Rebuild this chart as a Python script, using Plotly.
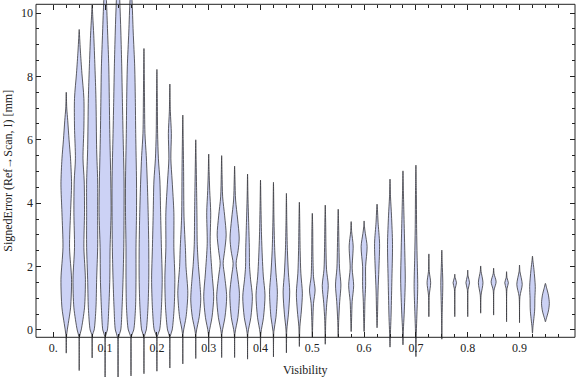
import plotly.graph_objects as go

# ---------------- data ----------------
VIS = [0.025, 0.05, 0.075, 0.1, 0.125, 0.15, 0.175, 0.2, 0.225, 0.25,
       0.275, 0.3, 0.325, 0.35, 0.375, 0.4, 0.425, 0.45, 0.475, 0.5,
       0.525, 0.55, 0.575, 0.6, 0.625, 0.65, 0.675, 0.7, 0.725, 0.75,
       0.775, 0.8, 0.825, 0.85, 0.875, 0.9, 0.925, 0.95]

VMIN = [-0.73, -1.28, -0.88, -1.55, -1.6, -1.45, -1.38, -1.3, -1.2, -1.07,
        -0.9, -0.68, -0.87, -0.87, -0.92, -0.67, -0.85, -0.72, -0.52, -0.23,
        -0.45, -0.22, -0.05, -0.05, 0.07, -0.54, -0.47, -0.84, 0.42, -0.29,
        0.42, 0.42, 0.53, 0.47, 0.26, 0.23, -0.1, 0.26]

VMAX = [7.5, 9.48, 10.25, 11.0, 11.5, 10.8, 8.88, 8.22, 7.76, 6.78,
        6.0, 5.55, 5.5, 5.17, 4.92, 4.73, 4.66, 4.31, 4.03, 3.68,
        3.94, 3.81, 3.42, 3.44, 3.97, 4.76, 5.02, 5.2, 2.4, 2.52,
        1.76, 1.89, 2.02, 1.95, 1.84, 2.05, 2.33, 1.47]

# density profiles: (error value, relative density width)
PROFILES = [
    [(-0.15, 0.4), (0.2, 2.0), (0.7, 4.3), (1.6, 5.3), (2.6, 3.3), (3.7, 4.3), (4.6, 5.3), (5.4, 4.3), (6.0, 2.8), (6.6, 1.5), (7.0, 0.5)],
    [(-0.2, 0.4), (0.0, 2.0), (0.7, 5.3), (1.6, 6.2), (2.6, 4.7), (3.7, 5.3), (4.7, 5.0), (5.4, 3.8), (6.4, 4.7), (7.3, 4.7), (8.1, 2.7), (8.8, 1.2), (9.2, 0.5)],
    [(-0.15, 0.4), (0.0, 2.0), (0.7, 3.8), (1.6, 4.5), (2.6, 5.5), (3.7, 5.5), (4.7, 5.5), (5.7, 4.5), (7.3, 3.8), (8.3, 2.8), (9.3, 1.6), (9.9, 0.6)],
    [(-0.2, 0.4), (0.0, 2.3), (0.7, 3.7), (1.6, 4.7), (2.6, 5.0), (3.7, 6.0), (4.7, 5.7), (6.2, 4.7), (7.3, 4.2), (8.3, 3.7), (9.4, 2.5), (10.4, 1.3)],
    [(-0.25, 0.4), (0.0, 2.7), (0.7, 4.0), (1.6, 5.0), (2.6, 5.7), (3.7, 6.0), (4.7, 6.0), (6.2, 5.0), (7.3, 4.3), (8.3, 3.7), (9.4, 2.8), (10.4, 1.7)],
    [(-0.2, 0.4), (0.0, 2.7), (0.7, 4.5), (1.6, 5.0), (2.6, 5.0), (3.7, 5.5), (4.7, 5.5), (6.2, 4.7), (7.3, 4.3), (8.3, 3.7), (9.4, 2.2), (10.4, 1.0)],
    [(-0.2, 0.4), (0.0, 2.3), (0.7, 4.0), (1.6, 4.8), (2.6, 4.8), (3.7, 4.2), (4.7, 3.3), (5.5, 2.3), (6.2, 1.0), (7.5, 0.5)],
    [(-0.2, 0.4), (0.0, 2.7), (0.7, 4.5), (1.6, 5.3), (2.6, 4.5), (3.7, 3.7), (4.7, 3.0), (5.4, 1.5), (6.2, 0.7), (7.3, 0.4)],
    [(-0.2, 0.4), (0.0, 2.3), (0.7, 4.3), (1.6, 5.0), (2.6, 4.0), (3.7, 4.0), (4.7, 2.3), (5.4, 1.0), (6.2, 1.5), (6.9, 0.5)],
    [(-0.1, 0.4), (0.42, 3.3), (1.16, 5.0), (2.0, 3.2), (2.5, 2.7), (3.57, 1.2), (5.0, 0.8), (6.0, 0.4)],
    [(-0.1, 0.4), (0.42, 3.5), (0.95, 5.0), (1.6, 3.8), (2.0, 2.7), (2.7, 1.5), (3.6, 1.2), (4.5, 0.8), (5.3, 0.4)],
    [(-0.1, 0.4), (0.4, 3.3), (1.05, 5.0), (1.8, 3.3), (2.73, 1.5), (3.7, 2.0), (4.4, 1.0), (5.0, 0.4)],
    [(-0.1, 0.4), (0.4, 3.3), (1.05, 5.0), (1.7, 3.0), (2.1, 1.5), (2.5, 3.0), (3.0, 4.5), (3.6, 3.0), (4.2, 1.0), (4.9, 0.4)],
    [(-0.1, 0.4), (0.4, 3.3), (1.16, 4.8), (1.7, 3.0), (2.1, 1.5), (2.5, 3.5), (2.9, 4.6), (3.5, 3.0), (4.1, 1.0), (4.7, 0.4)],
    [(-0.1, 0.4), (0.4, 3.3), (1.05, 4.8), (1.6, 3.0), (2.0, 2.0), (2.6, 1.8), (3.3, 1.2), (4.2, 0.4)],
    [(-0.1, 0.4), (0.4, 3.0), (1.1, 4.5), (1.7, 2.8), (2.3, 1.8), (3.0, 1.0), (4.0, 0.4)],
    [(-0.05, 0.4), (0.4, 2.5), (1.2, 3.9), (1.8, 2.5), (2.5, 1.3), (3.5, 0.5)],
    [(0.0, 0.4), (0.5, 2.0), (1.2, 3.3), (1.8, 2.0), (2.5, 1.0), (3.4, 0.4)],
    [(0.1, 0.5), (0.6, 2.0), (1.16, 3.0), (1.79, 1.5), (2.5, 0.8), (3.4, 0.4)],
    [(0.3, 0.5), (0.84, 1.2), (1.26, 2.8), (1.68, 1.2), (2.4, 0.6), (3.2, 0.4)],
    [(0.3, 0.5), (0.84, 1.5), (1.4, 3.0), (1.9, 1.3), (2.6, 0.7), (3.4, 0.4)],
    [(0.3, 0.5), (0.9, 1.5), (1.42, 2.7), (1.95, 1.3), (2.6, 0.8), (3.3, 0.4)],
    [(0.4, 0.5), (0.9, 1.0), (1.4, 2.5), (1.95, 1.0), (2.65, 2.0), (3.1, 0.5)],
    [(0.4, 0.5), (0.9, 0.8), (1.4, 1.5), (2.0, 1.5), (2.63, 3.0), (3.05, 1.2), (3.25, 0.4)],
    [(0.4, 0.4), (1.26, 1.0), (1.9, 1.8), (2.73, 2.5), (3.4, 1.0), (3.8, 0.4)],
    [(-0.1, 0.4), (0.4, 1.0), (1.5, 1.8), (2.7, 2.5), (3.6, 1.5), (4.2, 0.5)],
    [(0.0, 0.4), (0.5, 1.2), (1.58, 2.3), (2.5, 1.8), (3.6, 1.0), (4.4, 0.4)],
    [(-0.1, 0.4), (0.5, 1.0), (1.37, 1.8), (2.3, 1.2), (3.2, 0.7), (4.4, 0.4)],
    [(1.1, 0.4), (1.49, 1.8), (1.85, 0.4)],
    [(0.6, 0.4), (1.49, 1.0), (2.1, 0.4)],
    [(1.3, 0.4), (1.49, 1.7), (1.65, 0.4)],
    [(1.28, 0.4), (1.49, 1.8), (1.7, 0.4)],
    [(1.1, 0.4), (1.49, 2.3), (1.85, 0.4)],
    [(1.25, 0.4), (1.52, 2.5), (1.78, 0.4)],
    [(1.3, 0.4), (1.49, 1.8), (1.65, 0.4)],
    [(1.05, 0.4), (1.44, 2.7), (1.85, 0.4)],
    [(0.1, 0.5), (0.63, 2.2), (1.0, 2.4), (1.37, 2.8), (1.9, 1.5), (2.2, 0.4)],
    [(0.35, 0.8), (0.6, 3.0), (0.84, 3.9), (1.1, 3.0), (1.35, 1.0)],
]

X_TICKS = [0.0, 0.1, 0.2, 0.3, 0.4, 0.5, 0.6, 0.7, 0.8, 0.9]
X_TICKTEXT = ["0.", "0.1", "0.2", "0.3", "0.4", "0.5", "0.6", "0.7", "0.8", "0.9"]
X_MINOR = [0.025, 0.05, 0.075, 0.125, 0.15, 0.175, 0.225, 0.25, 0.275, 0.325, 0.35,
           0.375, 0.425, 0.45, 0.475, 0.525, 0.55, 0.575, 0.625, 0.65, 0.675, 0.725,
           0.75, 0.775, 0.825, 0.85, 0.875, 0.925, 0.95, 0.975]
Y_TICKS = [0, 2, 4, 6, 8, 10]
Y_MINOR = [0.5, 1, 1.5, 2.5, 3, 3.5, 4.5, 5, 5.5, 6.5, 7, 7.5, 8.5, 9, 9.5]

# ---------------- styling ----------------
WSCALE = 0.1 / 51.8          # density width unit -> x units
FILL = "rgb(204,210,245)"
EDGE = "rgba(55,55,60,0.8)"
INK = "#222222"
FONT = "Liberation Serif"
X_RANGE = [-0.0334, 1.0071]
Y_RANGE = [-1.483, 10.41]
FRAME_BOTTOM = 0.1053
FRAME_TOP = 0.9886

fig = go.Figure()

for c, lo, hi, prof in zip(VIS, VMIN, VMAX, PROFILES):
    vs = [lo] + [p[0] for p in prof] + [hi]
    ws = [0.0] + [p[1] for p in prof] + [0.0]
    xs = [c + w * WSCALE for w in ws] + [c - w * WSCALE for w in reversed(ws[:-1])]
    ys = vs + list(reversed(vs[:-1]))
    fig.add_trace(go.Scatter(
        x=xs, y=ys, mode="lines", fill="toself", fillcolor=FILL,
        line=dict(color=EDGE, width=1, shape="spline", smoothing=0.8),
        hoverinfo="skip", showlegend=False))

# empty trace so the top mirror axis is drawn
fig.add_trace(go.Scatter(x=[], y=[], xaxis="x2", showlegend=False, hoverinfo="skip"))

tickfont = dict(family=FONT, size=12, color=INK)

fig.update_layout(
    width=576, height=377,
    margin=dict(l=36, r=1, t=0, b=0),
    paper_bgcolor="white", plot_bgcolor="white",
    xaxis=dict(range=X_RANGE, anchor="free", position=FRAME_BOTTOM,
               tickmode="array", tickvals=X_TICKS, ticktext=X_TICKTEXT,
               ticks="inside", ticklen=5, tickwidth=1, tickcolor=INK,
               tickfont=tickfont, showgrid=False, zeroline=False, showline=False,
               ticklabelstandoff=2, automargin=False,
               minor=dict(tickmode="array", tickvals=X_MINOR, ticks="inside",
                          ticklen=3, tickwidth=1, tickcolor=INK, showgrid=False)),
    xaxis2=dict(range=X_RANGE, overlaying="x", anchor="free", position=FRAME_TOP,
                side="top", tickmode="array", tickvals=X_TICKS,
                ticks="inside", ticklen=5, tickwidth=1, tickcolor=INK,
                showticklabels=False, showgrid=False, zeroline=False, showline=False,
                automargin=False,
                minor=dict(tickmode="array", tickvals=X_MINOR, ticks="inside",
                           ticklen=3, tickwidth=1, tickcolor=INK, showgrid=False)),
    yaxis=dict(range=Y_RANGE, domain=[0, 1], tickmode="array", tickvals=Y_TICKS,
               ticks="inside", ticklen=5, tickwidth=1, tickcolor=INK,
               tickfont=tickfont, showgrid=False, zeroline=False, showline=False,
               mirror="ticks", ticklabelstandoff=2, automargin=False,
               minor=dict(tickmode="array", tickvals=Y_MINOR, ticks="inside",
                          ticklen=3, tickwidth=1, tickcolor=INK, showgrid=False)),
    shapes=[dict(type="rect", xref="paper", yref="paper", x0=0, x1=1,
                 y0=FRAME_BOTTOM, y1=FRAME_TOP, line=dict(color=INK, width=1),
                 fillcolor="rgba(0,0,0,0)", layer="above")],
    annotations=[
        dict(text="SignedError (Ref\u2192Scan, I) [mm]", textangle=-90,
             xref="paper", yref="paper", x=-0.052, y=0.547,
             xanchor="center", yanchor="middle", showarrow=False,
             font=dict(family=FONT, size=12, color=INK)),
        dict(text="Visibility", xref="paper", yref="paper", x=0.5, y=0.0194,
             xanchor="center", yanchor="middle", showarrow=False,
             font=dict(family=FONT, size=12, color=INK)),
    ],
)

fig.write_html("out.html", config={"displayModeBar": False},
               post_script="document.body.style.margin='0';document.body.style.padding='0';")
